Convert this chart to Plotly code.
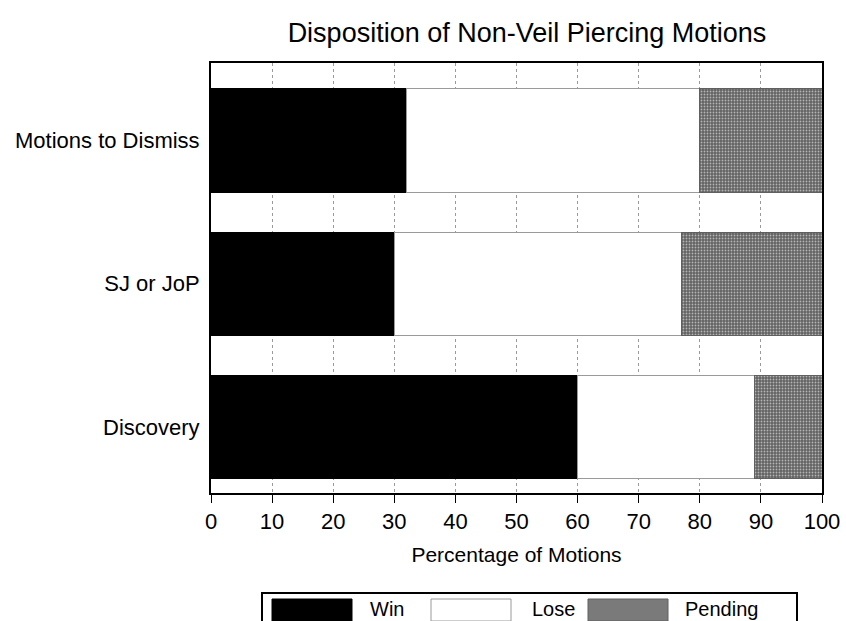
import plotly.graph_objects as go

categories = ["Motions to Dismiss", "SJ or JoP", "Discovery"]
series_names = ["Win", "Lose", "Pending"]
win = [32, 30, 60]
lose = [48, 47, 29]
pending = [20, 23, 11]
x_ticks = [0, 10, 20, 30, 40, 50, 60, 70, 80, 90, 100]

values = [win, lose, pending]
fills = ["#000000", "#ffffff", "#7a7a7a"]
outlines = ["#000000", "#9a9a9a", "#606060"]

W, H = 846, 621
PL, PR, PT, PB = 211, 822, 63, 493          # plot area in pixels
L, R, T, B = PL, W - PR, PT, H - PB
pw, ph = PR - PL, PB - PT

def px(x):
    return (x - PL) / pw

def py(y):
    return (PB - y) / ph

fig = go.Figure()
for name, vals, fc, lc in zip(series_names, values, fills, outlines):
    marker = dict(color=fc, line=dict(color=lc, width=1))
    if name == "Pending":
        marker["pattern"] = dict(shape=".", fgcolor="#b4b4b4", bgcolor="#626262",
                                 size=3, solidity=0.3, fillmode="replace")
    fig.add_trace(go.Bar(
        y=categories, x=vals, name=name, orientation="h",
        marker=marker, showlegend=False,
    ))

font = "Liberation Sans, Arial, sans-serif"
fig.update_layout(
    width=W, height=H,
    margin=dict(l=L, r=R, t=T, b=B),
    barmode="stack",
    bargap=0.28,
    plot_bgcolor="white",
    paper_bgcolor="white",
    font=dict(family=font, size=20, color="black"),
    title=dict(text="Disposition of Non-Veil Piercing Motions",
               x=527 / W, xanchor="center",
               y=1 - 33 / H, yanchor="middle",
               font=dict(size=27)),
    xaxis=dict(range=[0, 100], tickvals=x_ticks, ticktext=[str(t) for t in x_ticks],
               showgrid=True, gridcolor="#9a9a9a", griddash="dot", gridwidth=1,
               showline=True, linecolor="black", linewidth=2, mirror=True,
               ticks="outside", ticklen=8, tickcolor="black", tickwidth=1,
               zeroline=False, automargin=False,
               title=dict(text="Percentage of Motions", font=dict(size=21), standoff=14),
               tickfont=dict(size=22)),
    yaxis=dict(range=[2.46, -0.54], showgrid=False, showline=True, linecolor="black",
               linewidth=2, mirror=True, ticks="", ticklabelstandoff=5,
               automargin=False, tickfont=dict(size=22)),
)

# Legend drawn as box + swatches (pixel positions)
box_l, box_r, box_t, box_b = 262, 797, 593, 630
fig.add_shape(type="rect", xref="paper", yref="paper",
              x0=px(box_l), x1=px(box_r), y0=py(box_b), y1=py(box_t),
              line=dict(color="black", width=2), fillcolor="white", layer="above")
sw_x = [272, 431, 588]
lab_x = [368, 530, 683]
for name, fc, lc, sx, lx in zip(series_names, fills, outlines, sw_x, lab_x):
    fig.add_shape(type="rect", xref="paper", yref="paper",
                  x0=px(sx), x1=px(sx + 80), y0=py(621), y1=py(599),
                  line=dict(color=lc, width=1),
                  fillcolor=fc, layer="above")
    fig.add_annotation(text=name, xref="paper", yref="paper", x=px(lx), y=py(609),
                       xanchor="left", yanchor="middle", showarrow=False,
                       font=dict(size=20))

fig.write_html("out.html", config={"displayModeBar": False},
               post_script="document.body.style.margin='0';")
